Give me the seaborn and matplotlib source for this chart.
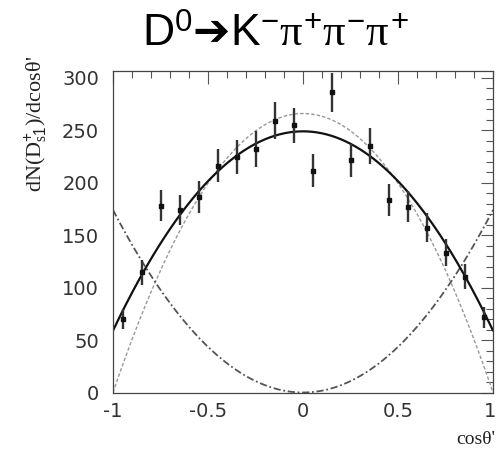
import numpy as np
import pandas as pd
import matplotlib
matplotlib.use("Agg")
import matplotlib.pyplot as plt
from matplotlib.ticker import MultipleLocator
from matplotlib.transforms import ScaledTranslation
import seaborn as sns

# ---- data ----
bin_centers = [-0.95, -0.85, -0.75, -0.65, -0.55, -0.45, -0.35, -0.25, -0.15, -0.05,
               0.05, 0.15, 0.25, 0.35, 0.45, 0.55, 0.65, 0.75, 0.85, 0.95]
counts = [70.1, 114.7, 178.2, 174.1, 186.3, 216.4, 224.7, 232.3, 259.1, 254.6,
          211.6, 286.1, 221.2, 234.9, 183.7, 177.3, 157.3, 133.4, 110.5, 71.8]
errors = [9.5, 12.0, 15.0, 14.5, 15.0, 16.0, 16.5, 17.0, 17.5, 17.0,
          16.0, 18.5, 16.0, 17.0, 15.0, 14.5, 14.0, 13.0, 12.0, 10.0]

# fit curves of the form  A*(1 - x^2) + B*x^2  (A = value at 0, B = value at +-1)
fit_total = (249.0, 59.0)
fit_long = (266.0, 0.0)
fit_trans = (0.0, 174.0)

x_ticks = [-1, -0.5, 0, 0.5, 1]
x_tick_labels = ["-1", "-0.5", "0", "0.5", "1"]
y_ticks = [0, 50, 100, 150, 200, 250, 300]
y_tick_labels = ["0", "50", "100", "150", "200", "250", "300"]

title_text = r"$\mathrm{D}^{0}\mathsf{➔}\mathrm{K}^{-}\pi^{+}\pi^{-}\pi^{+}$"
ylabel_text = r"dN(D$^{+}_{s1}$)/dcosθ'"
xlabel_text = "cosθ'"

# ---- style ----
sns.set_theme(style="white")
plt.rcParams["font.family"] = ["DejaVu Sans"]
plt.rcParams["axes.unicode_minus"] = False
plt.rcParams["mathtext.fontset"] = "custom"
plt.rcParams["mathtext.rm"] = "Liberation Sans"
plt.rcParams["mathtext.it"] = "Liberation Serif"
plt.rcParams["mathtext.sf"] = "DejaVu Sans"

W, H = 497, 449
fig = plt.figure(figsize=(W / 100, H / 100), dpi=100)
ax = fig.add_axes([113 / W, 1 - 392.5 / H, 380 / W, 322 / H])

xs = np.linspace(-1, 1, 401)
def curve(p):
    a, b = p
    return a * (1 - xs ** 2) + b * xs ** 2

df = pd.DataFrame({"x": xs, "total": curve(fit_total),
                   "long": curve(fit_long), "trans": curve(fit_trans)})

sns.lineplot(data=df, x="x", y="long", ax=ax, color="#999999", lw=1.0,
             linestyle=(0, (2.5, 1.5)))
sns.lineplot(data=df, x="x", y="trans", ax=ax, color="#555555", lw=1.3,
             linestyle=(0, (4, 1.5, 1, 1.5)))
sns.lineplot(data=df, x="x", y="total", ax=ax, color="#111111", lw=1.6)

ax.errorbar(bin_centers, counts, yerr=errors, fmt="s", ms=3.2, color="#111111",
            ecolor="#333333", elinewidth=1.7, capsize=0, zorder=5)

ax.set_xlim(-1, 1)
ax.set_ylim(0, 307)
ax.xaxis.set_minor_locator(MultipleLocator(0.1))
ax.yaxis.set_minor_locator(MultipleLocator(10))
ax.set_xticks(x_ticks)
ax.set_xticklabels(x_tick_labels)
ax.set_yticks(y_ticks)
ax.set_yticklabels(y_tick_labels)

ax.tick_params(which="both", direction="in", top=True, right=True,
               color="#555555", width=0.8, labelsize=14, labelcolor="#333333")
ax.tick_params(which="major", length=9)
ax.tick_params(which="minor", length=5)
ax.tick_params(axis="x", which="major", pad=7)
ax.tick_params(axis="y", which="major", pad=10)
for s in ax.spines.values():
    s.set_color("#444444")
    s.set_linewidth(0.9)
ax.set_xlabel("")
ax.set_ylabel("")

# keep the last x tick label inside the figure
last = ax.get_xticklabels()[-1]
last.set_transform(last.get_transform() + ScaledTranslation(-3 / 100, 0, fig.dpi_scale_trans))

fig.text(275 / W, 1 - 46 / H, title_text, fontsize=32, ha="center",
         va="baseline", color="black")
fig.text(36 / W, 1 - 56 / H, ylabel_text, rotation=90, ha="center", va="top",
         fontsize=16, family="Liberation Serif", color="#222222")
fig.text(495 / W, 1 - 444 / H, xlabel_text, ha="right", va="baseline",
         fontsize=14, family="Liberation Serif", color="#222222")

fig.savefig("out.png", dpi=100)
